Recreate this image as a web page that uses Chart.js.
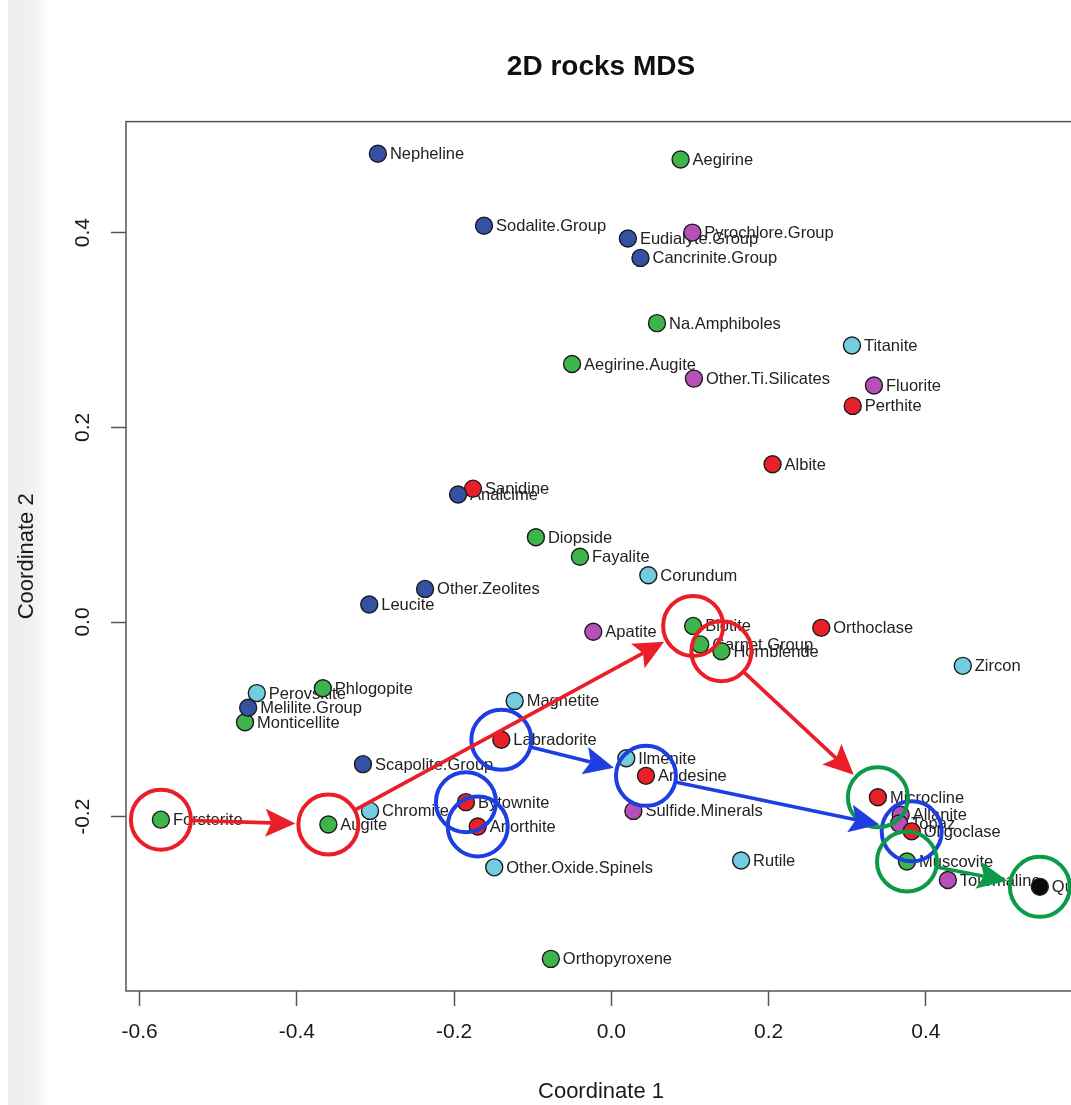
<!DOCTYPE html>
<html>
<head>
<meta charset="utf-8">
<title>2D rocks MDS</title>
<script src="https://cdn.jsdelivr.net/npm/chart.js@4.4.1/dist/chart.umd.min.js"></script>
<style>
  html, body { margin: 0; padding: 0; background: #fff; overflow: hidden; }
  #strip { position: absolute; left: 8px; top: 0; width: 40px; height: 1105px;
           background: linear-gradient(to right, #ececec, #f3f3f3 70%, #fff); }
  #wrap { position: absolute; left: 0; top: 0; width: 1100px; height: 1105px; }
</style>
</head>
<body>
<div id="strip"></div>
<div id="wrap"><canvas id="mds"></canvas></div>
<script>
// MDS coordinates
const minerals = [
  "Nepheline", "Sodalite.Group", "Eudialyte.Group", "Cancrinite.Group", "Analcime",
  "Other.Zeolites", "Leucite", "Melilite.Group", "Scapolite.Group",
  "Aegirine", "Na.Amphiboles", "Aegirine.Augite", "Diopside", "Fayalite", "Biotite",
  "Garnet.Group", "Hornblende", "Perovskite", "Phlogopite", "Monticellite", "Forsterite", "Augite",
  "Muscovite", "Orthopyroxene",
  "Sanidine", "Albite", "Perthite", "Orthoclase", "Labradorite", "Andesine",
  "Bytownite", "Anorthite", "Microcline", "Oligoclase",
  "Titanite", "Corundum", "Zircon", "Magnetite", "Ilmenite", "Chromite",
  "Other.Oxide.Spinels", "Rutile",
  "Pyrochlore.Group", "Other.Ti.Silicates", "Fluorite", "Apatite", "Sulfide.Minerals",
  "Allanite", "Topaz", "Tourmaline",
  "Quartz"
];
const coord1 = [
  -0.297, -0.162, 0.021, 0.037, -0.195,
  -0.237, -0.308, -0.462, -0.316,
  0.088, 0.058, -0.050, -0.096, -0.040, 0.104,
  0.113, 0.140, -0.451, -0.367, -0.466, -0.573, -0.360,
  0.376, -0.077,
  -0.176, 0.205, 0.307, 0.267, -0.140, 0.044,
  -0.185, -0.170, 0.339, 0.382,
  0.306, 0.047, 0.447, -0.123, 0.019, -0.307,
  -0.149, 0.165,
  0.103, 0.105, 0.334, -0.023, 0.028,
  0.368, 0.366, 0.428,
  0.545
];
const coord2 = [
  0.481, 0.407, 0.394, 0.374, 0.131,
  0.034, 0.018, -0.088, -0.146,
  0.475, 0.307, 0.265, 0.087, 0.067, -0.004,
  -0.023, -0.030, -0.073, -0.068, -0.103, -0.203, -0.208,
  -0.246, -0.346,
  0.137, 0.162, 0.222, -0.006, -0.121, -0.158,
  -0.185, -0.210, -0.180, -0.215,
  0.284, 0.048, -0.045, -0.081, -0.140, -0.194,
  -0.252, -0.245,
  0.400, 0.250, 0.243, -0.010, -0.194,
  -0.198, -0.207, -0.265,
  -0.272
];
const groups = [
  "blue", "blue", "blue", "blue", "blue", "blue", "blue", "blue", "blue",
  "green", "green", "green", "green", "green", "green", "green", "green", "cyan", "green",
  "green", "green", "green", "green", "green",
  "red", "red", "red", "red", "red", "red", "red", "red", "red", "red",
  "cyan", "cyan", "cyan", "cyan", "cyan", "cyan", "cyan", "cyan",
  "magenta", "magenta", "magenta", "magenta", "magenta", "magenta", "magenta", "magenta",
  "black"
];

const xTicks = [-0.6, -0.4, -0.2, 0.0, 0.2, 0.4];
const yTicks = [-0.2, 0.0, 0.2, 0.4];

// rings drawn around some minerals, and the arrows linking them
const ringNames = ["Forsterite", "Augite", "Biotite", "Hornblende",
                   "Labradorite", "Bytownite", "Anorthite", "Andesine", "Oligoclase",
                   "Microcline", "Muscovite", "Quartz"];
const ringColors = ["red", "red", "red", "red",
                    "blue", "blue", "blue", "blue", "blue",
                    "green", "green", "green"];
const arrowFrom = ["Forsterite", "Augite", "Hornblende", "Labradorite", "Andesine", "Muscovite"];
const arrowTo   = ["Augite", "Biotite", "Microcline", "Andesine", "Oligoclase", "Quartz"];
const arrowColors = ["red", "red", "red", "blue", "blue", "green"];

const fillColors = {
  blue: "#3451a3", green: "#3db54a", red: "#e8202a",
  cyan: "#72cde0", magenta: "#b650b8", black: "#0a0a0a"
};
const markColors = { red: "#e91e27", blue: "#1d3fe2", green: "#0b9b48" };

Chart.defaults.font.family = '"Liberation Sans", Arial, sans-serif';

const groupOrder = ["blue", "green", "red", "cyan", "magenta", "black"];
const datasets = groupOrder.map(g => ({
  label: g,
  data: minerals.map((m, i) => ({ x: coord1[i], y: coord2[i], g: groups[i] }))
                .filter(p => p.g === g),
  backgroundColor: fillColors[g],
  borderColor: "#1b1b1b",
  borderWidth: 1.4,
  pointRadius: 8.5,
  pointHoverRadius: 8.5
}));

function pos(chart, name) {
  const i = minerals.indexOf(name);
  return [chart.scales.x.getPixelForValue(coord1[i]), chart.scales.y.getPixelForValue(coord2[i])];
}

function drawArrow(ctx, x1, y1, x2, y2, color, gap) {
  const dx = x2 - x1, dy = y2 - y1, len = Math.hypot(dx, dy);
  const ux = dx / len, uy = dy / len, nx = -uy, ny = ux;
  const sx = x1 + ux * gap, sy = y1 + uy * gap;
  const tx = x2 - ux * (gap + 2), ty = y2 - uy * (gap + 2);
  const head = 30, half = 14;
  ctx.strokeStyle = color;
  ctx.lineWidth = 3.6;
  ctx.beginPath();
  ctx.moveTo(sx, sy);
  ctx.lineTo(tx - ux * head * 0.8, ty - uy * head * 0.8);
  ctx.stroke();
  const bx = tx - ux * head, by = ty - uy * head;
  ctx.fillStyle = color;
  ctx.beginPath();
  ctx.moveTo(tx, ty);
  ctx.lineTo(bx + nx * half, by + ny * half);
  ctx.lineTo(tx - ux * head * 0.8, ty - uy * head * 0.8);
  ctx.lineTo(bx - nx * half, by - ny * half);
  ctx.closePath();
  ctx.fill();
}

const boxPlugin = {
  id: "box",
  beforeDatasetsDraw(chart) {
    const { ctx, chartArea: a } = chart;
    ctx.save();
    ctx.strokeStyle = "#555";
    ctx.lineWidth = 1.5;
    ctx.strokeRect(a.left, a.top, a.right - a.left, a.bottom - a.top);
    // point labels go under the points, as in the original
    ctx.font = '16.5px "Liberation Sans", Arial, sans-serif';
    ctx.fillStyle = "#222";
    ctx.textAlign = "left";
    ctx.textBaseline = "middle";
    minerals.forEach(m => {
      const [px, py] = pos(chart, m);
      ctx.fillText(m, px + 12, py + 1);
    });
    ctx.restore();
  }
};

const annotatePlugin = {
  id: "annotate",
  afterDatasetsDraw(chart) {
    const ctx = chart.ctx;
    ctx.save();
    // rings
    ctx.lineWidth = 4;
    ringNames.forEach((m, i) => {
      const [px, py] = pos(chart, m);
      ctx.strokeStyle = markColors[ringColors[i]];
      ctx.beginPath();
      ctx.arc(px, py, 30, 0, Math.PI * 2);
      ctx.stroke();
    });
    // arrows
    arrowFrom.forEach((m, i) => {
      const [x1, y1] = pos(chart, m);
      const [x2, y2] = pos(chart, arrowTo[i]);
      drawArrow(ctx, x1, y1, x2, y2, markColors[arrowColors[i]], 31);
    });
    ctx.restore();
  },
  afterDraw(chart) {
    // y tick labels, rotated like base R
    const ctx = chart.ctx, ys = chart.scales.y;
    ctx.save();
    ctx.font = '21px "Liberation Sans", Arial, sans-serif';
    ctx.fillStyle = "#1a1a1a";
    ctx.textAlign = "center";
    ctx.textBaseline = "middle";
    yTicks.forEach(v => {
      ctx.save();
      ctx.translate(83, ys.getPixelForValue(v));
      ctx.rotate(-Math.PI / 2);
      ctx.fillText(v.toFixed(1), 0, 0);
      ctx.restore();
    });
    ctx.restore();
  }
};

new Chart(document.getElementById("mds"), {
  type: "scatter",
  data: { datasets },
  plugins: [boxPlugin, annotatePlugin],
  options: {
    responsive: true,
    maintainAspectRatio: false,
    animation: false,
    layout: { padding: { left: 0, right: 24, top: 0, bottom: 0 } },
    plugins: {
      legend: { display: false },
      tooltip: { enabled: false },
      title: {
        display: true,
        text: "2D rocks MDS",
        fullSize: false,
        color: "#111",
        font: { size: 28, weight: "bold" },
        padding: { top: 50, bottom: 38 }
      }
    },
    scales: {
      x: {
        type: "linear",
        min: -0.6174,
        max: 0.591,
        afterBuildTicks: s => { s.ticks = xTicks.map(v => ({ value: v })); },
        afterFit: s => { s.height = 114; },
        border: { display: false },
        grid: { drawOnChartArea: false, drawTicks: true, tickLength: 15,
                tickColor: "#555", tickWidth: 1.5, color: "#555" },
        ticks: { font: { size: 21 }, color: "#1a1a1a", padding: 14, maxRotation: 0,
                 autoSkip: false, callback: v => v.toFixed(1) },
        title: { display: true, text: "Coordinate 1", color: "#1a1a1a",
                 font: { size: 22 }, padding: { top: 0, bottom: 0 } }
      },
      y: {
        type: "linear",
        min: -0.379,
        max: 0.514,
        afterBuildTicks: s => { s.ticks = yTicks.map(v => ({ value: v })); },
        afterFit: s => { s.width = 126; },
        border: { display: false },
        grid: { drawOnChartArea: false, drawTicks: true, tickLength: 15,
                tickColor: "#555", tickWidth: 1.5, color: "#555" },
        ticks: { display: false },
        title: { display: true, text: "Coordinate 2", color: "#1a1a1a",
                 font: { size: 22 }, padding: { top: 14, bottom: 0 } }
      }
    }
  }
});
</script>
</body>
</html>
